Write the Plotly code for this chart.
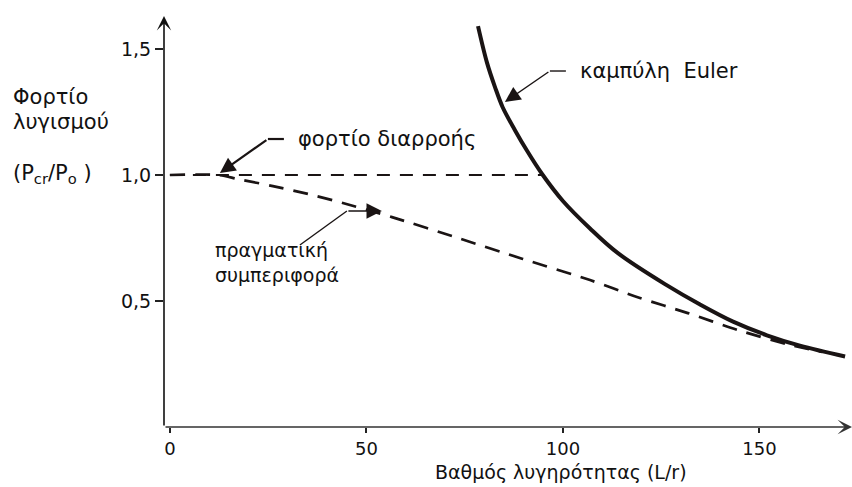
import plotly.graph_objects as go

# ---- data ----
euler_x = [78.4, 80.7, 82.7, 84.7, 87.8, 90.8, 94.7, 100.0, 106.9, 114.0,
           126.5, 134.9, 143.3, 151.9, 160.3, 171.8]
euler_y = [1.591, 1.445, 1.350, 1.268, 1.178, 1.098, 1.004, 0.897, 0.788, 0.690,
           0.562, 0.486, 0.418, 0.364, 0.323, 0.280]

actual_x = [0.0, 12.2, 17.3, 26.2, 35.1, 44.0, 56.5, 73.3, 89.8, 106.9, 119.6,
            131.8, 144.5, 157.0, 165.9]
actual_y = [1.0, 1.0, 0.984, 0.956, 0.925, 0.889, 0.833, 0.750, 0.667, 0.583,
            0.512, 0.452, 0.385, 0.329, 0.298]

yield_x = [0.0, 94.7]
yield_y = [1.0, 1.0]

x_tickvals = [0, 50, 100, 150]
x_ticktext = ["0", "50", "100", "150"]
y_tickvals = [0.5, 1.0, 1.5]
y_ticktext = ["0,5", "1,0", "1,5"]

X_RANGE = [-1.5, 173.56]
Y_RANGE = [0.0, 1.631]

FONT = "DejaVu Sans, Arial, sans-serif"
INK = "#1a1414"

W, H = 852, 487
ML, MR, MT, MB = 164, 0, 16, 60


# helpers to place layout items (annotations) by pixel position
def X(px):
    return (px - 170) / 3.93


def Y(py):
    return (427 - py) / 252


def PX(px):
    return (px - ML) / (W - ML - MR)


def PY(py):
    return (H - MB - py) / (H - MT - MB)


fig = go.Figure()

fig.add_trace(go.Scatter(x=yield_x, y=yield_y, mode="lines",
                         line=dict(color=INK, width=2, dash="13px,10px"),
                         showlegend=False, hoverinfo="skip"))
fig.add_trace(go.Scatter(x=actual_x, y=actual_y, mode="lines",
                         line=dict(color=INK, width=2.7, dash="15px,10px",
                                   shape="spline", smoothing=0.8),
                         showlegend=False, hoverinfo="skip"))
fig.add_trace(go.Scatter(x=euler_x, y=euler_y, mode="lines",
                         line=dict(color=INK, width=4, shape="spline", smoothing=1.0),
                         showlegend=False, hoverinfo="skip"))

annotations = []

# axis lines with arrowheads
annotations.append(dict(x=X_RANGE[1], y=0, ax=X_RANGE[0], ay=0, xref="x", yref="y",
                        axref="x", ayref="y", text="", showarrow=True, arrowhead=3,
                        arrowsize=1.5, arrowwidth=1.6, arrowcolor="#333"))
annotations.append(dict(x=X_RANGE[0], y=Y_RANGE[1], ax=X_RANGE[0], ay=0, xref="x", yref="y",
                        axref="x", ayref="y", text="", showarrow=True, arrowhead=3,
                        arrowsize=1.5, arrowwidth=1.6, arrowcolor="#111"))

# callout arrows
annotations.append(dict(x=X(220), y=Y(173), ax=X(268), ay=Y(139), xref="x", yref="y",
                        axref="x", ayref="y", text="", showarrow=True, arrowhead=2,
                        arrowsize=1.4, arrowwidth=2.2, arrowcolor=INK))
annotations.append(dict(x=X(505), y=Y(102), ax=X(550), ay=Y(71), xref="x", yref="y",
                        axref="x", ayref="y", text="", showarrow=True, arrowhead=2,
                        arrowsize=2.2, arrowwidth=1.4, arrowcolor=INK))
annotations.append(dict(x=X(382), y=Y(211), ax=X(347), ay=Y(211), xref="x", yref="y",
                        axref="x", ayref="y", text="", showarrow=True, arrowhead=2,
                        arrowsize=2.2, arrowwidth=1.4, arrowcolor=INK))

# callout texts
txt = dict(xref="paper", yref="paper", showarrow=False,
           font=dict(family=FONT, size=21, color="#111"),
           xanchor="left", yanchor="middle")
annotations.append(dict(txt, x=PX(296), y=PY(139), text="φορτίο διαρροής"))
annotations.append(dict(txt, x=PX(578), y=PY(71), text="καμπύλη  Euler"))
annotations.append(dict(txt, x=PX(213), y=PY(262), text="πραγματική<br>συμπεριφορά",
                        align="left", font=dict(family=FONT, size=19, color="#111")))

# y title
ytxt = dict(xref="paper", yref="paper", showarrow=False,
            font=dict(family=FONT, size=21, color="#111"),
            xanchor="left", yanchor="middle")
annotations.append(dict(ytxt, x=PX(11), y=PY(97), text="Φορτίο"))
annotations.append(dict(ytxt, x=PX(11), y=PY(122), text="λυγισμού"))
annotations.append(dict(ytxt, x=PX(11), y=PY(174), text="(P<sub>cr</sub>/P<sub>o</sub> )"))

# x title
annotations.append(dict(xref="paper", yref="paper", showarrow=False, x=PX(561), y=PY(472),
                        xanchor="center", yanchor="middle",
                        font=dict(family=FONT, size=19, color="#111"),
                        text="Βαθμός λυγηρότητας (L/r)"))

shapes = [
    dict(type="line", xref="x", yref="y", x0=X(268), y0=Y(139), x1=X(284), y1=Y(139),
         line=dict(color=INK, width=2.2)),
    dict(type="line", xref="x", yref="y", x0=X(550), y0=Y(71), x1=X(566), y1=Y(71),
         line=dict(color=INK, width=1.4)),
    dict(type="line", xref="x", yref="y", x0=X(300), y0=Y(245), x1=X(347), y1=Y(211),
         line=dict(color=INK, width=1.4)),
]

fig.update_layout(
    width=W, height=H,
    margin=dict(l=ML, r=MR, t=MT, b=MB, pad=0, autoexpand=False),
    paper_bgcolor="white", plot_bgcolor="white",
    annotations=annotations, shapes=shapes,
    xaxis=dict(range=X_RANGE, showgrid=False, zeroline=False, showline=False,
               automargin=False,
               tickvals=x_tickvals, ticktext=x_ticktext, ticks="outside", ticklen=5,
               tickwidth=2, tickcolor="#222",
               tickfont=dict(family=FONT, size=18, color="#111")),
    yaxis=dict(range=Y_RANGE, showgrid=False, zeroline=False, showline=False,
               automargin=False,
               tickvals=y_tickvals, ticktext=y_ticktext, ticks="outside", ticklen=8,
               tickwidth=1.5, tickcolor="#222",
               tickfont=dict(family=FONT, size=19, color="#111")),
)

fig.write_html("out.html", config={"displayModeBar": False},
               post_script="document.body.style.margin='0px';document.body.style.overflow='hidden';")
